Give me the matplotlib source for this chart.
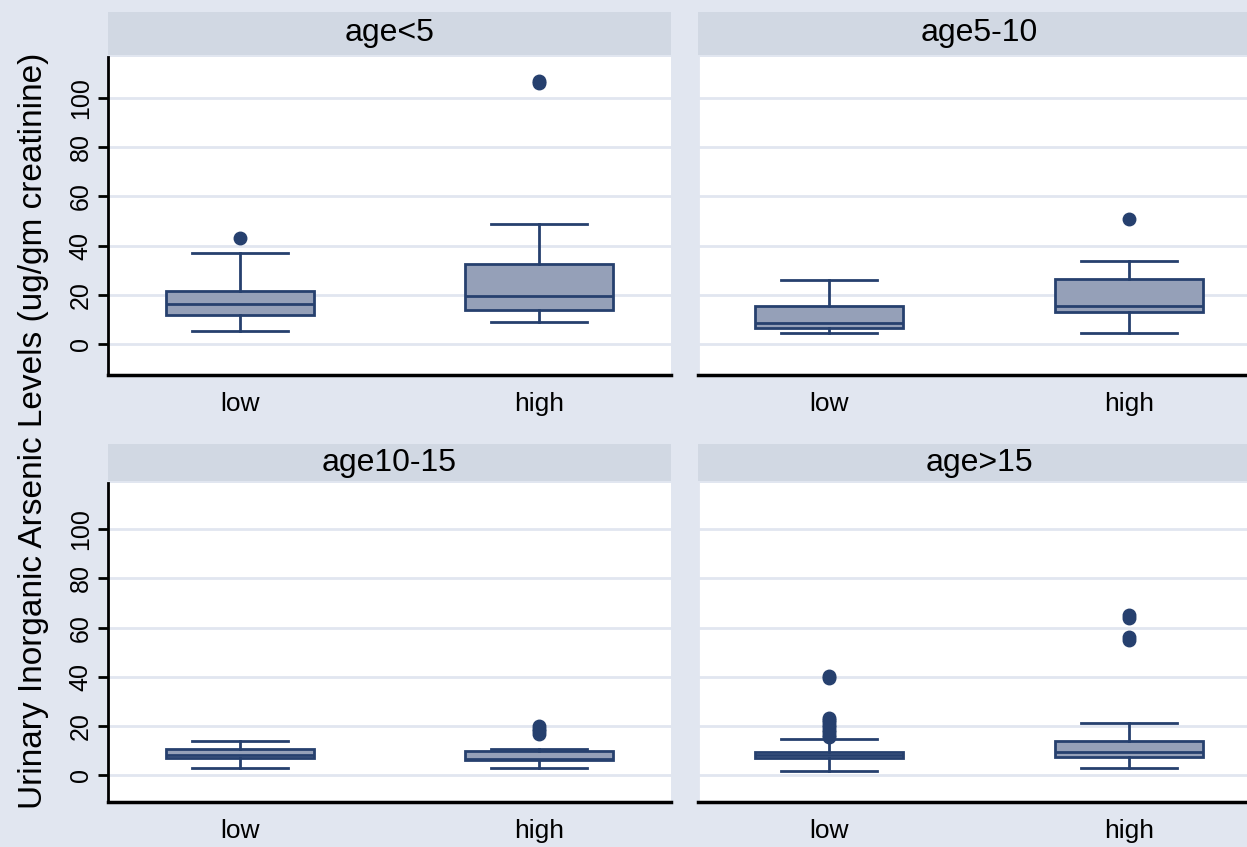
import matplotlib
matplotlib.use("Agg")
import matplotlib.pyplot as plt

# box plot summaries (ug/gm creatinine)
groups = ["low", "high"]
panels = ["age<5", "age5-10", "age10-15", "age>15"]

med = [[16.3, 19.6], [8.7, 15.3], [8.4, 6.6], [8.1, 9.3]]
q1 = [[11.9, 13.9], [6.6, 13.1], [7.0, 6.1], [7.0, 7.3]]
q3 = [[21.7, 32.6], [15.3, 26.3], [10.6, 9.8], [9.6, 13.8]]
whislo = [[5.4, 8.8], [4.3, 4.3], [3.0, 3.0], [1.9, 2.8]]
whishi = [[37.0, 48.8], [26.1, 33.7], [13.8, 10.6], [14.9, 21.4]]
fliers = [
    [[43.0], [106.0, 107.0]],
    [[], [50.7]],
    [[], [17.0, 18.0, 19.0, 20.0]],
    [[15.5, 16.5, 17.5, 18.5, 19.5, 20.5, 21.5, 22.5, 23.5, 39.5, 40.5],
     [55.0, 56.0, 64.0, 65.0]],
]
yticks = [0, 20, 40, 60, 80, 100]

bg = "#E1E6F0"
strip_col = "#D1D8E3"
navy = "#26406E"
fill = "#95A0B8"

plt.rcParams["font.family"] = ["Liberation Sans", "DejaVu Sans"]

fig = plt.figure(figsize=(12.47, 8.47), dpi=100, facecolor=bg)
W, H = 1247, 847

# pixel boxes: plot top/bottom, strip top/bottom, y range
cols = [108, 697.5]
width_px = 563
rows = [(57, 375, 12, 55, (-12.6, 116.7)), (483, 802, 444, 481, (-10.8, 118.7))]

for i, name in enumerate(panels):
    r, c = divmod(i, 2)
    top, bot, s_top, s_bot, ylim = rows[r]
    left = cols[c]
    ax = fig.add_axes([left / W, 1 - bot / H, width_px / W, (bot - top) / H])
    ax.set_facecolor("white")

    stats = []
    for j, g in enumerate(groups):
        stats.append(dict(med=med[i][j], q1=q1[i][j], q3=q3[i][j],
                          whislo=whislo[i][j], whishi=whishi[i][j],
                          fliers=fliers[i][j], label=g))
    ax.bxp(stats, positions=[1, 2], widths=0.495, capwidths=0.32,
           patch_artist=True, showfliers=True,
           boxprops=dict(facecolor=fill, edgecolor=navy, linewidth=2),
           medianprops=dict(color=navy, linewidth=2),
           whiskerprops=dict(color=navy, linewidth=2),
           capprops=dict(color=navy, linewidth=2),
           flierprops=dict(marker="o", markerfacecolor=navy,
                           markeredgecolor=navy, markersize=9))

    ax.set_xlim(0.56, 2.44)
    ax.set_ylim(*ylim)
    ax.set_yticks(yticks)
    ax.yaxis.grid(True, color=bg, linewidth=2)
    ax.set_axisbelow(True)
    ax.spines["top"].set_visible(False)
    ax.spines["right"].set_visible(False)
    ax.spines["bottom"].set_linewidth(2.5)
    ax.tick_params(axis="x", length=0, pad=12, labelsize=19)
    if c == 0:
        ax.spines["left"].set_linewidth(2)
        ax.tick_params(axis="y", length=7, width=2, labelsize=18,
                       labelrotation=90, pad=4)
        for lab in ax.get_yticklabels():
            lab.set_va("center")
    else:
        ax.spines["left"].set_color(bg)
        ax.spines["left"].set_linewidth(2)
        ax.tick_params(axis="y", length=0, labelleft=False)

    sax = fig.add_axes([left / W, 1 - s_bot / H, width_px / W, (s_bot - s_top) / H])
    sax.set_facecolor(strip_col)
    sax.set_xticks([])
    sax.set_yticks([])
    for sp in sax.spines.values():
        sp.set_visible(False)
    sax.text(0.5, 0.5, name, ha="center", va="center", fontsize=23,
             transform=sax.transAxes)

fig.text(34 / W, 1 - 431 / H, "Urinary Inorganic Arsenic Levels (ug/gm creatinine)",
         rotation=90, ha="center", va="center", fontsize=24,
         family=["Liberation Sans Narrow", "Liberation Sans"])

fig.savefig("out.png", dpi=100, facecolor=bg)
